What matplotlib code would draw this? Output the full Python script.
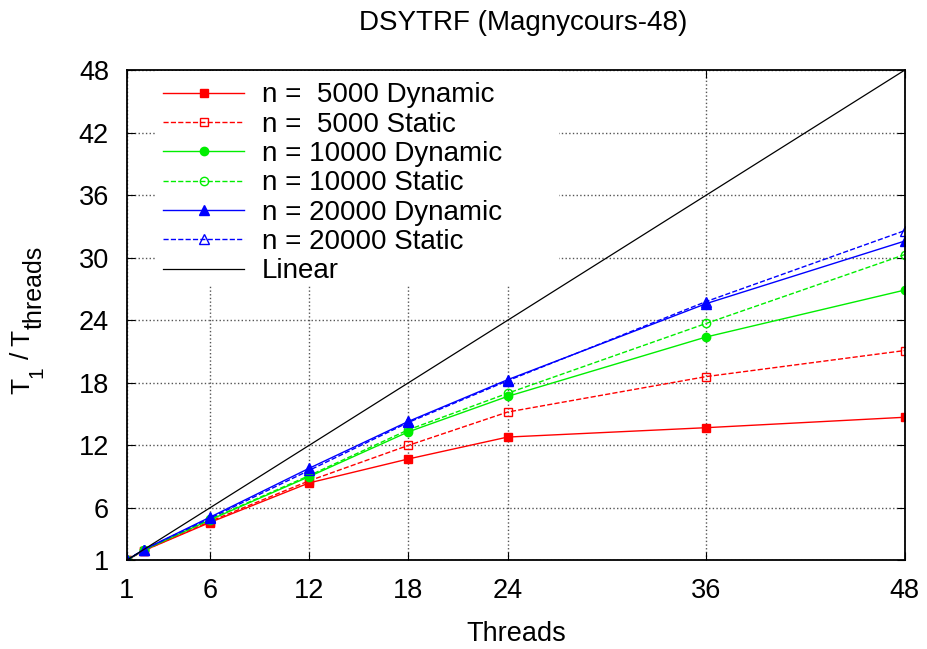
import matplotlib
matplotlib.use('Agg')
import matplotlib.pyplot as plt
from matplotlib.patches import Rectangle
from matplotlib.transforms import IdentityTransform

plt.rcParams['font.family'] = ['Liberation Sans', 'DejaVu Sans']

# Data
threads = [1, 2, 6, 12, 18, 24, 36, 48]
dyn_5000 = [1.0, 1.9, 4.6, 8.4, 10.7, 12.8, 13.7, 14.7]
sta_5000 = [1.0, 1.9, 4.7, 8.6, 12.0, 15.2, 18.6, 21.1]
dyn_10000 = [1.0, 1.95, 4.85, 9.0, 13.3, 16.7, 22.4, 26.9]
sta_10000 = [1.0, 1.95, 4.9, 9.1, 13.5, 17.0, 23.7, 30.3]
dyn_20000 = [1.0, 2.0, 5.1, 9.8, 14.3, 18.3, 25.6, 31.6]
sta_20000 = [1.0, 2.0, 5.0, 9.6, 14.2, 18.2, 25.8, 32.6]

xticks = [1, 6, 12, 18, 24, 36, 48]
yticks = [1, 6, 12, 18, 24, 30, 36, 42, 48]

fig = plt.figure(figsize=(9.27, 6.49), dpi=100)
ax = fig.add_axes([0.137, 0.137, 0.839, 0.755])

red = '#ff0000'
green = '#00ee00'
blue = '#0000ff'

ax.plot(threads, dyn_5000, '-', color=red, lw=1, marker='s', ms=6, label='n =  5000 Dynamic')
ax.plot(threads, sta_5000, '--', color=red, lw=1, marker='s', ms=6, mfc='none', label='n =  5000 Static')
ax.plot(threads, dyn_10000, '-', color=green, lw=1, marker='o', ms=6, label='n = 10000 Dynamic')
ax.plot(threads, sta_10000, '--', color=green, lw=1, marker='o', ms=6, mfc='none', label='n = 10000 Static')
ax.plot(threads, dyn_20000, '-', color=blue, lw=1, marker='^', ms=6.5, label='n = 20000 Dynamic')
ax.plot(threads, sta_20000, '--', color=blue, lw=1, marker='^', ms=6.5, mfc='none', label='n = 20000 Static')
ax.plot([1, 48], [1, 48], '-', color='black', lw=0.9, label='Linear')

ax.set_xlim(1, 48)
ax.set_ylim(1, 48)
ax.set_xticks(xticks)
ax.set_yticks(yticks)
ax.tick_params(direction='in', length=6, labelsize=19.5, top=True, right=True, pad=13)
ax.grid(True, linestyle=':', color='#555555', lw=1)
for s in ax.spines.values():
    s.set_linewidth(1.3)

ax.set_xlabel('Threads', fontsize=19.5, labelpad=12)
ax.set_title('DSYTRF (Magnycours-48)', fontsize=20, pad=29, x=0.509)

# white key area hides the grid, like gnuplot's key box
ax.add_patch(Rectangle((0.036, 0.561), 0.52, 0.437, transform=ax.transAxes,
                       facecolor='white', edgecolor='none', zorder=1.8))

leg = ax.legend(loc='upper left', bbox_to_anchor=(0.036, 0.992), fontsize=20,
                frameon=False, handlelength=2.9, handletextpad=0.65,
                labelspacing=0.12, borderpad=0.3, borderaxespad=0)

# y label built from pieces so the subscripts stay large, as in the original
renderer = fig.canvas.get_renderer()
pieces = [('T', 0, 19, 0), ('1', 13, 15, 0), ('/', 0, 19, 7), ('T', 0, 19, 6),
          ('threads', 13, 18, 1)]
y = 649 - 394
for s, shift, fs, gap in pieces:
    y += gap
    t = fig.text(29 + shift, y, s, rotation=90, rotation_mode='anchor',
                 ha='left', va='baseline', fontsize=fs, transform=IdentityTransform())
    y = t.get_window_extent(renderer).y1

fig.savefig('out.png', dpi=100)
